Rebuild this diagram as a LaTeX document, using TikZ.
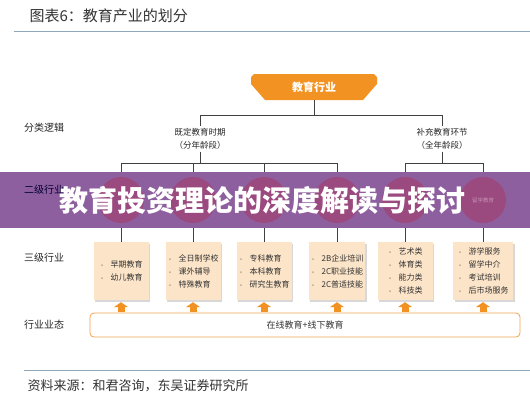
\documentclass[tikz,border=0pt]{standalone}
\usepackage{fontspec}
\setmainfont{Noto Sans CJK SC}
\usetikzlibrary{arrows.meta,positioning,calc,shadows}

\definecolor{indorange}{HTML}{F29222}
\definecolor{boxpeach}{HTML}{FCE4C8}
\definecolor{rimorange}{HTML}{F0A352}
\definecolor{rulegray}{HTML}{8FA7BA}
\definecolor{bannerpurple}{HTML}{8E5F9F}
\definecolor{bubblered}{HTML}{9B4A7F}

\begin{document}
\begin{tikzpicture}[
  x=1pt,y=-1pt,
  cat/.style={anchor=west, inner sep=0pt, text=black!85,
    font=\fontsize{10}{12}\selectfont},
  grp/.style={fill=white, align=center, inner sep=2pt, text=black!85,
    font=\fontsize{8.5}{13}\selectfont},
  leaf/.style={fill=boxpeach, minimum width=55pt, minimum height=58pt, align=left,
    inner sep=2pt, text=black!80, font=\fontsize{8}{13}\selectfont,
    drop shadow={shadow xshift=1.5pt, shadow yshift=-1.5pt, opacity=0.3}},
  bubble/.style={circle, fill=bubblered, minimum size=46pt, inner sep=0pt,
    text=bubblered!60!white, font=\fontsize{5.5}{6}\selectfont},
  form/.style={draw=rimorange, rounded corners=4pt, line width=0.8pt, fill=white,
    minimum width=430pt, minimum height=24pt, text=black!80,
    font=\fontsize{9}{11}\selectfont},
  link/.style={draw=black!75, line width=0.7pt},
  uparrow/.style={draw=indorange, line width=7pt, -{Triangle[width=14pt,length=5pt]},
    shorten <=1pt, shorten >=2pt}
]
\fill[white] (0,0) rectangle (530,400);
\useasboundingbox (0,0) rectangle (530,400);

% Heading and rules
\node[anchor=west, text=black!80, font=\fontsize{15}{17}\selectfont] (ttl) at (26,16) {图表6：教育产业的划分};
\draw[rulegray, line width=1pt] (14,31) -- (530,31);
\draw[rulegray, line width=1pt] (24,370) -- (530,370);
\node[anchor=west, text=black!80, font=\fontsize{13}{15}\selectfont] (src) at (24,386) {资料来源：和君咨询，东吴证券研究所};

% Row captions
\node[cat] (l1) at (24,128) {分类逻辑};
\node[cat] (l3) at (24,258) {三级行业};
\node[cat] (l4) at (24,325) {行业业态};

% Top of the tree
\fill[indorange] (251,77) -- (254,74) -- (374,74) -- (377,77) -- (377,84)
  -- (363,100) -- (265,100) -- (251,84) -- cycle;
\node[minimum width=126pt, minimum height=26pt, text=white,
  font=\fontsize{11}{13}\selectfont\bfseries] (ind) at (314,87) {教育行业};

\node[grp] (g1) at (200,139) {既定教育时期\\（分年龄段）};
\node[grp] (g2) at (442,139) {补充教育环节\\（全年龄段）};

% Third level boxes
\node[leaf] (b1) at (121,271) {{\tiny\textbullet}\hspace{6pt}早期教育\\{\tiny\textbullet}\hspace{6pt}幼儿教育};
\node[leaf] (b2) at (193,271) {{\tiny\textbullet}\hspace{6pt}全日制学校\\{\tiny\textbullet}\hspace{6pt}课外辅导\\{\tiny\textbullet}\hspace{6pt}特殊教育};
\node[leaf] (b3) at (264,271) {{\tiny\textbullet}\hspace{6pt}专科教育\\{\tiny\textbullet}\hspace{6pt}本科教育\\{\tiny\textbullet}\hspace{6pt}研究生教育};
\node[leaf] (b4) at (337,271) {{\tiny\textbullet}\hspace{6pt}2B企业培训\\{\tiny\textbullet}\hspace{6pt}2C职业技能\\{\tiny\textbullet}\hspace{6pt}2C普适技能};
\node[leaf] (b5) at (405,271) {{\tiny\textbullet}\hspace{6pt}艺术类\\{\tiny\textbullet}\hspace{6pt}体育类\\{\tiny\textbullet}\hspace{6pt}能力类\\{\tiny\textbullet}\hspace{6pt}科技类};
\node[leaf, minimum width=60pt] (b6) at (483,271) {{\tiny\textbullet}\hspace{6pt}游学服务\\{\tiny\textbullet}\hspace{6pt}留学中介\\{\tiny\textbullet}\hspace{6pt}考试培训\\{\tiny\textbullet}\hspace{6pt}后市场服务};

\node[form] (mode) at (305,325) {在线教育+线下教育};

% Tree lines
\draw[link] (ind.south) -- ++(0,15) coordinate (hub);
\draw[link] (hub) -| (g1.north);
\draw[link] (hub) -| (g2.north);
\coordinate (j1) at (200,163);
\coordinate (j2) at (442,163);
\draw[link] (g1.south) -- (j1);
\draw[link] (g2.south) -- (j2);
\foreach \b in {b1,b2,b3,b4}
  \draw[link] (j1) -| (\b.north);
\foreach \b in {b5,b6}
  \draw[link] (j2) -| (\b.north);

% Arrows from the business form up to the boxes
\foreach \b in {b1,b2,b3,b4,b5,b6}
  \draw[uparrow] (mode.north -| \b) -- (\b.south);

% Banner over the second level
\fill[bannerpurple] (0,172) rectangle (530,228);
\node[bubble] (c1) at (121,200) {};
\node[bubble] (c2) at (193,200) {};
\node[bubble] (c3) at (264,200) {};
\node[bubble] (c4) at (337,200) {};
\node[bubble] (c5) at (405,200) {};
\node[bubble] (c6) at (483,200) {留学教育};
\node[cat, text=black!80!blue] (l2) at (24,190) {二级行业};
\node[text=white, font=\fontsize{29}{31}\selectfont\bfseries] (head) at (262,200) {教育投资理论的深度解读与探讨};

\end{tikzpicture}
\end{document}
